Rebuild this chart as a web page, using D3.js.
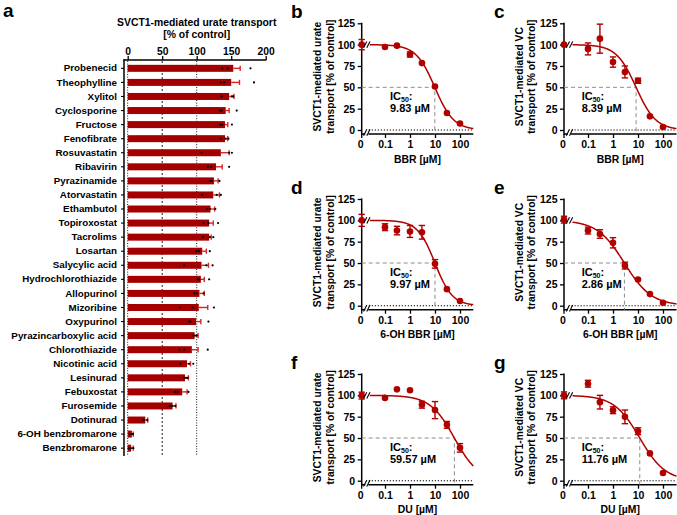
<!DOCTYPE html>
<html><head><meta charset="utf-8">
<script src="https://cdn.jsdelivr.net/npm/d3@7"></script>
<style>
body{margin:0;background:#fff}
svg{font-family:"Liberation Sans",Arial,sans-serif;font-weight:bold}
</style>
</head><body>
<svg id="c" width="677" height="515"></svg>
<script>
// ---------- Panel a data ----------
const drugs = ["Probenecid","Theophylline","Xylitol","Cyclosporine","Fructose","Fenofibrate","Rosuvastatin","Ribavirin","Pyrazinamide","Atorvastatin","Ethambutol","Topiroxostat","Tacrolims","Losartan","Salycylic acid","Hydrochlorothiazide","Allopurinol","Mizoribine","Oxypurinol","Pyrazincarboxylic acid","Chlorothiazide","Nicotinic acid","Lesinurad","Febuxostat","Furosemide","Dotinurad","6-OH benzbromarone","Benzbromarone"];
const drugMeans = [153,150,147,142,141,141,135,128,125,124,120,118,118,108,107,106,104,103,99,97,93,86,83,79,65,25.5,6,5];
const drugSemTop = [163,162,154,147,145,145,147,137,131,133,126,124,121,114,117,111,111,116,106,102,102,91,88,86,70,29,8,8];
const drugReplicates = [[137,145,178],[135,140,183],[136,151,153],[134,136,158],[134,137,151],[135,142,146],[107,147,151],[116,121,147],[120,122,133],[108,129,135],[115,119,127],[110,117,131],[109,119,124],[99,103,119],[82,114,123],[101,104,118],[96,100,110],[76,94,125],[89,91,117],[95,97.5,100],[75,82,116],[76,89,95],[82,84.5,87],[68.5,72.5,88],[61,64.7,69],[22.6,24,28.4],[3.3,5.8,7.7],[1.4,4.3,8.2]];
const axisATicks = [0,50,100,150,200];
const refLinesA = [0,50,100];

// ---------- Dose-response data ----------
const concs = [0,0.1,0.3,1,3,10,30,100];
const xTickValues = [0.1,1,10,100];
const yTickValues = [0,25,50,75,100,125];
const bbrUrateMean = [100,97.2,98.8,88.5,78.4,51,20,7.7];
const bbrUrateErr  = [6,2,2,3,2,2,2,1.5];
const bbrVCMean    = [100,95,107,79.6,68,57.7,16,3.5];
const bbrVCErr     = [1,7,17,6,7,3,1.5,1.5];
const ohbbrUrateMean = [100,92,88,87,86,49,19.4,5.5];
const ohbbrUrateErr  = [7,4,5,7,8,5,2,1.5];
const ohbbrVCMean  = [100.8,88,84,73.7,47,30.7,13.6,3.5];
const ohbbrVCErr   = [4,4,5,6,4,2,2,1.5];
const duUrateMean  = [99.7,97,107,106,89,82.7,65.4,38.5];
const duUrateErr   = [4,2,1,1,4,10,4,5];
const duVCMean     = [100,113.6,92,82.6,74.8,58,32,9];
const duVCErr      = [4,4,8,4,8,4,2,1.5];
const ic50s  = [9.83, 8.39, 9.97, 2.86, 59.57, 11.76];
const hills  = [1.15, 1.1, 1.25, 0.8, 0.9, 0.85];
const drugLabels = ["BBR [µM]","BBR [µM]","6-OH BBR [µM]","6-OH BBR [µM]","DU [µM]","DU [µM]"];
const yTitleUrate = ["SVCT1-mediated urate","transport [% of control]"];
const yTitleVC = ["SVCT1-mediated VC","transport [% of control]"];
const letters = ["b","c","d","e","f","g"];

const RED = "#b00000", BAR = "#a50000", EBAR = "#d42525";
const svg = d3.select("#c");

// ---------- Panel a ----------
(function(){
  const g = svg.append("g");
  const x = d3.scaleLinear().domain([0,200]).range([127.7,265.7]);
  const y = d3.scaleBand().domain(drugs).range([61.3,455.2]);
  const bh = 7;
  const cy = d => y(d) + y.bandwidth()/2;

  g.append("text").attr("x",3).attr("y",17).attr("font-size",19).text("a");
  g.append("text").attr("x",196.7).attr("y",26).attr("text-anchor","middle").attr("font-size",10.4).text("SVCT1-mediated urate transport");
  g.append("text").attr("x",196.7).attr("y",37.5).attr("text-anchor","middle").attr("font-size",10.4).text("[% of control]");

  refLinesA.forEach((v,i)=>{
    g.append("line").attr("x1",x(v)).attr("x2",x(v)).attr("y1",61).attr("y2",455.5)
      .attr("stroke","#000").attr("stroke-width",0.9).attr("stroke-dasharray", i===1?"2,2":"1,1.6");
  });

  g.selectAll("rect.bar").data(drugs).join("rect").attr("class","bar")
    .attr("x",x(0)).attr("y",d=>cy(d)-bh/2).attr("height",bh)
    .attr("width",(d,i)=>x(drugMeans[i])-x(0)).attr("fill",BAR);
  drugs.forEach((d,i)=>{
    g.append("line").attr("x1",x(drugMeans[i])).attr("x2",x(drugSemTop[i])).attr("y1",cy(d)).attr("y2",cy(d)).attr("stroke",EBAR).attr("stroke-width",1.4);
    g.append("line").attr("x1",x(drugSemTop[i])).attr("x2",x(drugSemTop[i])).attr("y1",cy(d)-2.6).attr("y2",cy(d)+2.6).attr("stroke",EBAR).attr("stroke-width",1.4);
    drugReplicates[i].forEach(v=>{
      g.append("circle").attr("cx",x(v)).attr("cy",cy(d)).attr("r",1.1).attr("fill","#000");
    });
  });

  const ax = g.append("g").attr("transform","translate(0,60)")
    .call(d3.axisTop(x).tickValues(axisATicks).tickSize(4).tickPadding(1.5));
  ax.select(".domain").remove();
  ax.selectAll("line").attr("stroke-width",1.3);
  ax.selectAll("text").attr("font-size",10.3).attr("font-family",null).attr("fill","#000");
  g.append("line").attr("x1",123.5).attr("x2",266.3).attr("y1",60).attr("y2",60).attr("stroke","#000").attr("stroke-width",1.5);

  const ay = g.append("g").attr("transform","translate(124,0)")
    .call(d3.axisLeft(y).tickSize(3).tickPadding(4));
  ay.select(".domain").remove();
  ay.selectAll("line").attr("stroke-width",1.1);
  ay.selectAll("text").attr("font-size",9.8).attr("font-family",null).attr("fill","#000");
  g.append("line").attr("x1",124).attr("x2",124).attr("y1",59.3).attr("y2",456).attr("stroke","#000").attr("stroke-width",1.5);
})();

// ---------- Dose response panels ----------
const cols = [
  {axisX:361.7, x01:385, xEnd:473.3, breakX:366.8, textX:390, titleX:[320.5,333.5], letterX:291},
  {axisX:564,   x01:588, xEnd:676.5, breakX:569.5, textX:581.7, titleX:[522.5,535], letterX:494}
];
const rows = [130, 305.7, 480.7];
const panels = [
  {mean:bbrUrateMean, err:bbrUrateErr, title:yTitleUrate},
  {mean:bbrVCMean, err:bbrVCErr, title:yTitleVC},
  {mean:ohbbrUrateMean, err:ohbbrUrateErr, title:yTitleUrate},
  {mean:ohbbrVCMean, err:ohbbrVCErr, title:yTitleVC},
  {mean:duUrateMean, err:duUrateErr, title:yTitleUrate},
  {mean:duVCMean, err:duVCErr, title:yTitleVC}
];

function slashes(g, cx, cy){
  [-1.6,1.6].forEach(o=>{
    g.append("line").attr("x1",cx+o-1.6).attr("y1",cy+3.2).attr("x2",cx+o+1.6).attr("y2",cy-3.2)
      .attr("stroke","#000").attr("stroke-width",1.1);
  });
}

panels.forEach((p,k)=>{
  const c = cols[k%2], y0 = rows[Math.floor(k/2)];
  const g = svg.append("g");
  const y = d3.scaleLinear().domain([0,125]).range([y0, y0-106.7]);
  const x = d3.scaleLog().domain([0.1,100]).range([c.x01, c.x01+75]);
  const px = v => v===0 ? c.axisX : x(v);
  const axY = y0+4;

  g.append("text").attr("x",c.letterX).attr("y",y0-112).attr("font-size",19).text(letters[k]);

  const ay = g.append("g").attr("transform",`translate(${c.axisX},0)`)
    .call(d3.axisLeft(y).tickValues(yTickValues).tickSize(4).tickPadding(2.5));
  ay.select(".domain").remove();
  ay.selectAll("line").attr("stroke-width",1.3);
  ay.selectAll("text").attr("font-size",10.5).attr("font-family",null).attr("fill","#000");
  g.append("line").attr("x1",c.axisX).attr("x2",c.axisX).attr("y1",y(125)-0.6).attr("y2",axY+0.7).attr("stroke","#000").attr("stroke-width",1.5);

  const axx = g.append("g").attr("transform",`translate(0,${axY})`)
    .call(d3.axisBottom(x).tickValues(xTickValues).tickFormat(d=>String(d)).tickSize(4).tickPadding(2.5));
  axx.select(".domain").remove();
  axx.selectAll("line").attr("stroke-width",1.3);
  axx.selectAll("text").attr("font-size",10.5).attr("font-family",null).attr("fill","#000");
  g.append("line").attr("x1",c.axisX).attr("x2",c.axisX).attr("y1",axY).attr("y2",axY+4).attr("stroke","#000").attr("stroke-width",1.3);
  g.append("text").attr("x",c.axisX-1).attr("y",axY+6.5+7.5).attr("text-anchor","middle").attr("font-size",10.5).text("0");
  g.append("line").attr("x1",c.axisX).attr("x2",c.breakX-1.5).attr("y1",axY).attr("y2",axY).attr("stroke","#000").attr("stroke-width",1.5);
  g.append("line").attr("x1",c.breakX+1.5).attr("x2",c.xEnd).attr("y1",axY).attr("y2",axY).attr("stroke","#000").attr("stroke-width",1.5);

  g.append("line").attr("x1",c.breakX+2).attr("x2",c.xEnd).attr("y1",y(0)).attr("y2",y(0))
    .attr("stroke","#000").attr("stroke-width",1.1).attr("stroke-dasharray","1.2,1.8");

  const ic = ic50s[k];
  g.append("path").attr("d",`M${c.axisX},${y(50)}H${x(ic)}V${axY}`).attr("fill","none")
    .attr("stroke","#8c8c8c").attr("stroke-width",1).attr("stroke-dasharray","4,3");

  const lo = Math.log10(x.invert(c.breakX+3)), hi = Math.log10(x.invert(c.xEnd));
  const pts = d3.range(0,201).map(i=>{ const cc = Math.pow(10, lo+(hi-lo)*i/200); return [x(cc), y(100/(1+Math.pow(cc/ic, hills[k])))]; });
  g.append("path").attr("d",d3.line()(pts)).attr("fill","none").attr("stroke",RED).attr("stroke-width",1.5);

  concs.forEach((cc,i)=>{
    const X = px(cc), m = p.mean[i], e = p.err[i];
    if (e>2.5){
      g.append("line").attr("x1",X).attr("x2",X).attr("y1",y(m+e)).attr("y2",y(m-e)).attr("stroke",RED).attr("stroke-width",1.4);
      [m+e,m-e].forEach(v=>g.append("line").attr("x1",X-3.2).attr("x2",X+3.2).attr("y1",y(v)).attr("y2",y(v)).attr("stroke",RED).attr("stroke-width",1.4));
    }
    g.append("circle").attr("cx",X).attr("cy",y(m)).attr("r",3.3).attr("fill",RED);
  });

  slashes(g, c.breakX, y(100));
  slashes(g, c.breakX, axY-1.5);

  const t = g.append("text").attr("x",c.textX).attr("y",y0-30).attr("font-size",11);
  t.append("tspan").text("IC");
  t.append("tspan").attr("font-size",7).attr("dy",2).text("50");
  t.append("tspan").attr("dy",-2).text(":");
  g.append("text").attr("x",c.textX).attr("y",y0-17.8).attr("font-size",11).text(`${ic} µM`);

  p.title.forEach((s,j)=>{
    g.append("text").attr("transform",`translate(${c.titleX[j]},${y(62.5)}) rotate(-90)`)
      .attr("text-anchor","middle").attr("font-size",10.3).text(s);
  });
  g.append("text").attr("x",(c.axisX+c.xEnd)/2).attr("y",y0+32.5).attr("text-anchor","middle").attr("font-size",10.4).text(drugLabels[k]);
});
</script>
</body></html>
